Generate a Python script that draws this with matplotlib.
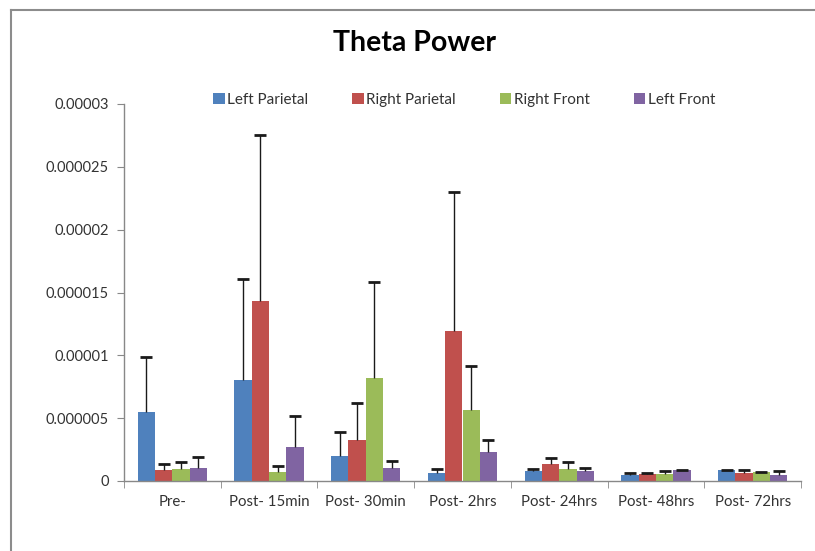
import matplotlib
matplotlib.use("Agg")
import matplotlib.pyplot as plt
import numpy as np
from matplotlib.lines import Line2D

categories = ["Pre-", "Post- 15min", "Post- 30min", "Post- 2hrs", "Post- 24hrs", "Post- 48hrs", "Post- 72hrs"]
series_names = ["Left Parietal", "Right Parietal", "Right Front", "Left Front"]

left_parietal = [5.5e-6, 8.0e-6, 2.0e-6, 0.66e-6, 0.8e-6, 0.45e-6, 0.85e-6]
right_parietal = [0.88e-6, 14.3e-6, 3.3e-6, 11.9e-6, 1.33e-6, 0.58e-6, 0.66e-6]
right_front = [0.98e-6, 0.74e-6, 8.2e-6, 5.65e-6, 0.98e-6, 0.58e-6, 0.72e-6]
left_front = [1.06e-6, 2.7e-6, 1.06e-6, 2.3e-6, 0.8e-6, 0.85e-6, 0.45e-6]

left_parietal_err = [4.4e-6, 8.1e-6, 1.9e-6, 0.32e-6, 0.18e-6, 0.21e-6, 0.03e-6]
right_parietal_err = [0.45e-6, 13.2e-6, 2.9e-6, 11.1e-6, 0.47e-6, 0.06e-6, 0.22e-6]
right_front_err = [0.55e-6, 0.45e-6, 7.6e-6, 3.5e-6, 0.55e-6, 0.22e-6, 0.02e-6]
left_front_err = [0.85e-6, 2.5e-6, 0.56e-6, 1.0e-6, 0.2e-6, 0.03e-6, 0.35e-6]

yticks = [0, 0.000005, 0.00001, 0.000015, 0.00002, 0.000025, 0.00003]
ytick_labels = ["0", "0.000005", "0.00001", "0.000015", "0.00002", "0.000025", "0.00003"]

colors = ["#4F81BD", "#C0504D", "#9BBB59", "#8064A2"]

plt.rcParams['font.family'] = ['Lato', 'DejaVu Sans']

fig = plt.figure(figsize=(8.15, 5.51), dpi=100)
fig.patch.set_facecolor("white")
ax = fig.add_axes([124/815, 1-481/551, (801-124)/815, (481-104)/551])

values = [left_parietal, right_parietal, right_front, left_front]
errs = [left_parietal_err, right_parietal_err, right_front_err, left_front_err]
x = np.arange(len(categories))
w = 0.179
cw = 0.062
handles = []
for i, (vals, er, c, name) in enumerate(zip(values, errs, colors, series_names)):
    pos = x + (i - 1.5) * w
    vals = np.array(vals)
    er = np.array(er)
    b = ax.bar(pos, vals, width=w, color=c, label=name, zorder=2)
    ax.vlines(pos, vals, vals + er, colors="#1a1a1a", linewidth=1.0, zorder=3)
    ax.hlines(vals + er, pos - cw, pos + cw, colors="#1a1a1a", linewidth=2.0, zorder=3)
    handles.append(b)

ax.set_xlim(-0.5, len(categories) - 0.5)
ax.set_ylim(0, 0.00003)
ax.set_yticks(yticks)
ax.set_yticklabels(ytick_labels, fontsize=10.5, color="#333333")
ax.set_xticks(x)
ax.set_xticklabels(categories, fontsize=10.8, color="#333333")
ax.tick_params(axis="x", length=0, pad=10)
ax.tick_params(axis="y", length=5, color="#888888", pad=6)
ax.set_xticks(np.arange(-0.5, len(categories)), minor=True)
ax.tick_params(axis="x", which="minor", length=5, color="#888888")
for s in ["top", "right"]:
    ax.spines[s].set_visible(False)
for s in ["left", "bottom"]:
    ax.spines[s].set_color("#888888")
    ax.spines[s].set_linewidth(1.0)

fig.text(415/815, 1-43/551, "Theta Power", ha="center", va="center",
         fontsize=20.5, fontweight="bold", color="black")

leg = fig.legend(handles=handles, labels=series_names, loc="center",
                 bbox_to_anchor=(464/815, 1-100/551), ncol=4, frameon=False,
                 fontsize=11, handlelength=0.75, handleheight=0.75, handletextpad=0.15,
                 columnspacing=2.9)
for t in leg.get_texts():
    t.set_color("#333333")

fig.add_artist(Line2D([11/815, 1.0], [1-10/551, 1-10/551], transform=fig.transFigure,
                      color="#8c8c8c", linewidth=1.5))
fig.add_artist(Line2D([11/815, 11/815], [0.0, 1-10/551], transform=fig.transFigure,
                      color="#8c8c8c", linewidth=1.5))

fig.savefig("out.png", dpi=100, facecolor="white")
